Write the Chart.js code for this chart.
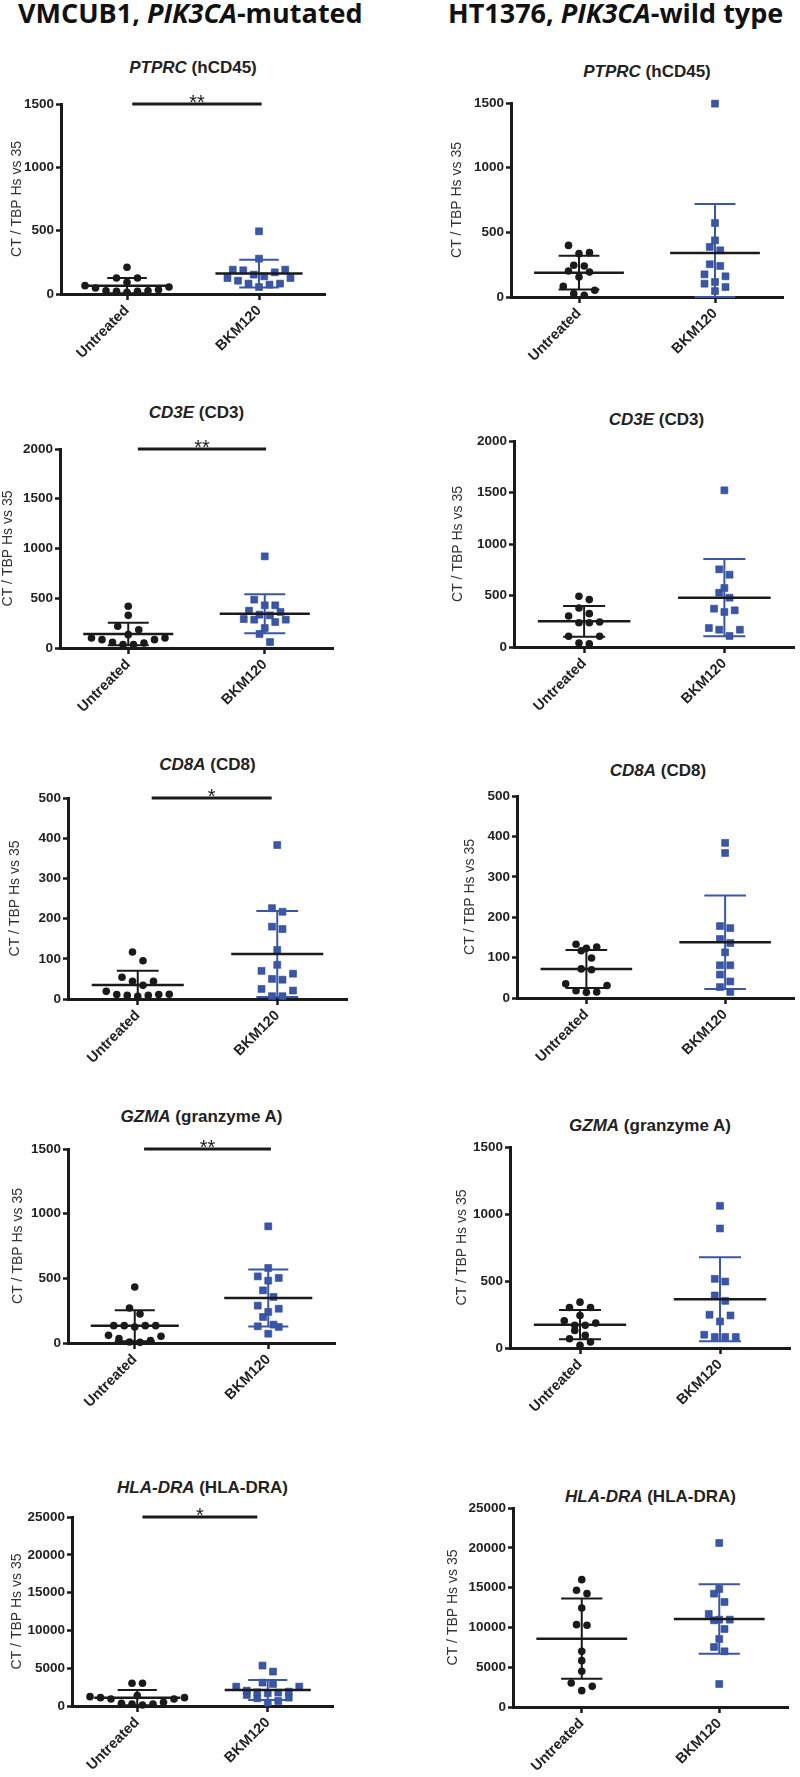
<!DOCTYPE html>
<html>
<head>
<meta charset="utf-8">
<script src="https://cdn.jsdelivr.net/npm/chart.js@4.4.1/dist/chart.umd.min.js"></script>
<style>
body { margin: 0; background: #fff; width: 800px; height: 1777px; position: relative; overflow: hidden; font-family: "Liberation Sans", Arial, sans-serif; }
.head { position: absolute; top: -6px; font-family: "Open Sans", sans-serif; font-weight: 700; font-size: 27px; color: #111; white-space: nowrap; }
.ptitle { position: absolute; transform: translate(-50%, -50%); font-weight: 700; font-size: 17px; color: #222; white-space: nowrap; }
canvas { position: absolute; }
</style>
</head>
<body>
<div class="head" style="left:18px">VMCUB1, <i>PIK3CA</i>-mutated</div>
<div class="head" style="left:448px">HT1376, <i>PIK3CA</i>-wild type</div>
<script>
// groupes
const groups = ['Untreated', 'BKM120'];
const yTitle = 'CT / TBP Hs vs 35';

// PTPRC (hCD45)
const ptprcMutUntreated = [211, 126, 126, 92, 66, 47, 26, 21, 13, 21, 26, 34, 55];
const ptprcMutBkm = [495, 279, 192, 187, 192, 171, 153, 126, 105, 126, 139, 82, 55, 74, 82];
const ptprcWtUntreated = [399, 343, 335, 245, 240, 201, 193, 155, 82, 52, 13, 26];
const ptprcWtBkm = [1495, 572, 438, 387, 361, 253, 240, 175, 160, 103, 116, 77, 46];

// CD3E (CD3)
const cd3eMutUntreated = [419, 328, 218, 184, 134, 100, 84, 57, 34, 34, 50, 84, 100];
const cd3eMutBkm = [921, 486, 429, 429, 362, 375, 328, 335, 285, 261, 285, 291, 201, 141, 60];
const cd3eWtUntreated = [492, 460, 379, 301, 324, 236, 236, 243, 104, 104, 32, 39];
const cd3eWtBkm = [1521, 754, 702, 573, 527, 479, 356, 340, 372, 168, 168, 184, 107];

// CD8A (CD8)
const cd8aMutUntreated = [117, 95, 44, 44, 54, 34, 19, 11, 9, 7, 9, 11, 12];
const cd8aMutBkm = [383, 226, 217, 174, 180, 122, 85, 70, 50, 48, 63, 21, 25, 7, 7];
const cd8aWtUntreated = [133, 123, 126, 117, 99, 72, 70, 35, 31, 18, 14, 15];
const cd8aWtBkm = [384, 359, 173, 178, 146, 136, 113, 81, 81, 58, 41, 27, 15];

// GZMA (granzyme A)
const gzmaMutUntreated = [433, 271, 224, 134, 134, 124, 134, 134, 59, 52, 34, 5, 8, 18];
const gzmaMutBkm = [902, 580, 503, 482, 515, 407, 356, 289, 265, 240, 201, 129, 124, 142, 72];
const gzmaWtUntreated = [342, 302, 302, 243, 203, 186, 169, 169, 131, 94, 69, 45, 20];
const gzmaWtBkm = [1061, 892, 516, 496, 392, 352, 243, 248, 198, 99, 82, 82, 82];

// HLA-DRA (HLA-DRA)
const hlaMutUntreated = [3004, 3004, 1369, 1104, 928, 486, 265, 133, 265, 353, 928, 1104, 1237];
const hlaMutBkm = [5345, 4550, 2915, 3092, 2562, 2562, 1767, 1458, 2032, 1899, 1104, 1678, 1811, 1016, 442, 663];
const hlaWtUntreated = [15998, 14658, 14239, 12438, 10344, 10261, 6994, 5821, 4481, 3015, 2597, 2052];
const hlaWtBkm = [20605, 14826, 14239, 13192, 11685, 10973, 10889, 10973, 9800, 8544, 7538, 6994, 2890];

// moyenne et ecart-type [Untreated, BKM120]
const ptprcMutMean = [66, 161], ptprcMutSd = [60, 110];
const ptprcWtMean = [188, 340], ptprcWtSd = [130, 380];
const cd3eMutMean = [141, 345], cd3eMutSd = [114, 196];
const cd3eWtMean = [249, 479], cd3eWtSd = [150, 375];
const cd8aMutMean = [35, 112], cd8aMutSd = [35, 107];
const cd8aWtMean = [72, 138], cd8aWtSd = [47, 116];
const gzmaMutMean = [134, 348], gzmaMutSd = [120, 221];
const gzmaWtMean = [174, 364], gzmaWtSd = [109, 313];
const hlaMutMean = [1104, 2120], hlaMutSd = [1000, 1325];
const hlaWtMean = [8585, 11056], hlaWtSd = [5045, 4355];

const black = '#1a1a1a';
const blue = '#3a56a6';

// panneaux: position et echelles
const panels = [
  { gene: 'PTPRC', prot: '(hCD45)', u: ptprcMutUntreated, b: ptprcMutBkm, mean: ptprcMutMean, sd: ptprcMutSd, max: 1500, step: 500, sig: '**', span: [0.04, 1.02], cx: 0, ax: 61, yt: 104, yb: 294, xr: 325, tx: 17, ty: 68 },
  { gene: 'PTPRC', prot: '(hCD45)', u: ptprcWtUntreated, b: ptprcWtBkm, mean: ptprcWtMean, sd: ptprcWtSd, max: 1500, step: 500, sig: null, cx: 400, ax: 511, yt: 103, yb: 297, xr: 783, tx: 457, ty: 72 },
  { gene: 'CD3E', prot: '(CD3)', u: cd3eMutUntreated, b: cd3eMutBkm, mean: cd3eMutMean, sd: cd3eMutSd, max: 2000, step: 500, sig: '**', span: [0.07, 1.01], cx: 0, ax: 60, yt: 449, yb: 648, xr: 333, tx: 8, ty: 413 },
  { gene: 'CD3E', prot: '(CD3)', u: cd3eWtUntreated, b: cd3eWtBkm, mean: cd3eWtMean, sd: cd3eWtSd, max: 2000, step: 500, sig: null, cx: 400, ax: 514, yt: 441, yb: 647, xr: 799, tx: 458, ty: 420 },
  { gene: 'CD8A', prot: '(CD8)', u: cd8aMutUntreated, b: cd8aMutBkm, mean: cd8aMutMean, sd: cd8aMutSd, max: 500, step: 100, sig: '*', span: [0.1, 0.96], cx: 0, ax: 68, yt: 798, yb: 999, xr: 347, tx: 15, ty: 765 },
  { gene: 'CD8A', prot: '(CD8)', u: cd8aWtUntreated, b: cd8aWtBkm, mean: cd8aWtMean, sd: cd8aWtSd, max: 500, step: 100, sig: null, cx: 400, ax: 517, yt: 796, yb: 998, xr: 799, tx: 470, ty: 771 },
  { gene: 'GZMA', prot: '(granzyme A)', u: gzmaMutUntreated, b: gzmaMutBkm, mean: gzmaMutMean, sd: gzmaMutSd, max: 1500, step: 500, sig: '**', span: [0.07, 1.02], cx: 0, ax: 68, yt: 1149, yb: 1343, xr: 335, tx: 18, ty: 1117 },
  { gene: 'GZMA', prot: '(granzyme A)', u: gzmaWtUntreated, b: gzmaWtBkm, mean: gzmaWtMean, sd: gzmaWtSd, max: 1500, step: 500, sig: null, cx: 400, ax: 510, yt: 1147, yb: 1348, xr: 790, tx: 462, ty: 1126 },
  { gene: 'HLA-DRA', prot: '(HLA-DRA)', u: hlaMutUntreated, b: hlaMutBkm, mean: hlaMutMean, sd: hlaMutSd, max: 25000, step: 5000, sig: '*', span: [0.04, 0.92], cx: 0, ax: 72, yt: 1517, yb: 1706, xr: 333, tx: 17, ty: 1488 },
  { gene: 'HLA-DRA', prot: '(HLA-DRA)', u: hlaWtUntreated, b: hlaWtBkm, mean: hlaWtMean, sd: hlaWtSd, max: 25000, step: 5000, sig: null, cx: 400, ax: 513, yt: 1508, yb: 1707, xr: 788, tx: 453, ty: 1497 }
];

Chart.defaults.font.family = "'Liberation Sans', Arial, sans-serif";
Chart.defaults.color = '#222';

// nuage de points facon GraphPad : les points proches en y sont mis cote a cote
function swarm(values, g, p) {
  const pxPerUnit = (p.yb - p.yt) / p.max;
  const unitPerPx = 2 / (p.xr - p.ax);
  const sorted = values.slice().sort((a, b) => a - b);
  const rows = [];
  sorted.forEach(v => {
    const r = rows[rows.length - 1];
    if (r && (v - r[0]) * pxPerUnit < 9) r.push(v); else rows.push([v]);
  });
  const pts = [];
  rows.forEach(r => {
    const n = r.length;
    // du centre vers l'exterieur
    const slots = [];
    for (let i = 0; i < n; i++) slots.push(i - (n - 1) / 2);
    slots.sort((a, b) => Math.abs(a) - Math.abs(b) || b - a);
    r.forEach((v, i) => pts.push({ x: g + slots[i] * 10.5 * unitPerPx, y: v }));
  });
  return pts;
}

function barsPlugin(p) {
  return {
    id: 'bars',
    afterDatasetsDraw(chart) {
      const { ctx, scales: { x, y } } = chart;
      ctx.save();
      p.mean.forEach((m, g) => {
        const sd = p.sd[g];
        const c = x.getPixelForValue(g);
        const yTop = y.getPixelForValue(m + sd);
        const yBot = y.getPixelForValue(Math.max(0, m - sd));
        const cap = x.getPixelForValue(g + 0.15) - c;
        const half = x.getPixelForValue(g + 0.33) - c;
        ctx.strokeStyle = g ? blue : black;
        ctx.lineWidth = 2;
        ctx.beginPath();
        ctx.moveTo(c, yTop); ctx.lineTo(c, yBot);
        ctx.moveTo(c - cap, yTop); ctx.lineTo(c + cap, yTop);
        ctx.moveTo(c - cap, yBot); ctx.lineTo(c + cap, yBot);
        ctx.stroke();
        ctx.strokeStyle = black;
        ctx.lineWidth = 2.5;
        ctx.beginPath();
        const ym = y.getPixelForValue(m);
        ctx.moveTo(c - half, ym); ctx.lineTo(c + half, ym);
        ctx.stroke();
      });
      if (p.sig) {
        const yb = y.getPixelForValue(p.max);
        const x0 = x.getPixelForValue(p.span[0]), x1 = x.getPixelForValue(p.span[1]);
        ctx.strokeStyle = black;
        ctx.lineWidth = 3;
        ctx.beginPath();
        ctx.moveTo(x0, yb); ctx.lineTo(x1, yb);
        ctx.stroke();
        ctx.fillStyle = black;
        ctx.font = "20px 'Liberation Sans', Arial, sans-serif";
        ctx.textAlign = 'center';
        ctx.textBaseline = 'alphabetic';
        ctx.fillText(p.sig, (x0 + x1) / 2, yb + 5);
      }
      ctx.restore();
    }
  };
}

panels.forEach(p => {
  const cy = p.yt - 40;
  const cw = 400;
  const ch = p.yb + 72 - cy;

  const t = document.createElement('div');
  t.className = 'ptitle';
  t.style.left = ((p.ax + p.xr) / 2) + 'px';
  t.style.top = p.ty + 'px';
  t.innerHTML = '<i>' + p.gene + '</i> ' + p.prot;
  document.body.appendChild(t);

  const cv = document.createElement('canvas');
  cv.width = cw; cv.height = ch;
  cv.style.left = p.cx + 'px'; cv.style.top = cy + 'px';
  cv.style.width = cw + 'px'; cv.style.height = ch + 'px';
  document.body.appendChild(cv);

  new Chart(cv.getContext('2d'), {
    type: 'scatter',
    data: {
      datasets: [
        {
          label: groups[0],
          data: swarm(p.u, 0, p),
          pointStyle: 'circle',
          pointRadius: 3.8,
          backgroundColor: black,
          borderColor: black,
          borderWidth: 0,
          clip: false
        },
        {
          label: groups[1],
          data: swarm(p.b, 1, p),
          pointStyle: 'rect',
          pointRadius: 4.9,
          backgroundColor: blue,
          borderColor: '#2c468f',
          borderWidth: 0.6,
          clip: false
        }
      ]
    },
    options: {
      responsive: false,
      animation: false,
      events: [],
      layout: { padding: { top: p.yt - cy, right: p.cx + cw - p.xr, left: 0, bottom: 0 } },
      plugins: { legend: { display: false }, tooltip: { enabled: false } },
      scales: {
        x: {
          type: 'linear',
          min: -0.5,
          max: 1.5,
          afterBuildTicks: s => { s.ticks = [{ value: 0 }, { value: 1 }]; },
          afterFit: s => { s.height = cy + ch - p.yb; },
          ticks: {
            callback: v => groups[v],
            autoSkip: false,
            minRotation: 45,
            maxRotation: 45,
            padding: 2,
            color: '#222',
            font: { size: 14.5, weight: 'bold' }
          },
          grid: { drawOnChartArea: false, drawTicks: true, tickLength: 6, tickWidth: 2.5, tickColor: black, color: black },
          border: { display: true, width: 3, color: black }
        },
        y: {
          min: 0,
          max: p.max,
          afterFit: s => { s.width = p.ax - p.cx; },
          ticks: {
            stepSize: p.step,
            callback: v => String(v),
            padding: 2,
            color: '#222',
            font: { size: 13.5, weight: 'bold' }
          },
          title: {
            display: true,
            text: yTitle,
            color: '#333',
            font: { size: 14 },
            padding: { top: Math.max(0, p.tx - p.cx - 8.4), bottom: 0 }
          },
          grid: { drawOnChartArea: false, drawTicks: true, tickLength: 5, tickWidth: 2.5, tickColor: black, color: black },
          border: { display: true, width: 3, color: black }
        }
      }
    },
    plugins: [barsPlugin(p)]
  });
});
</script>
</body>
</html>
